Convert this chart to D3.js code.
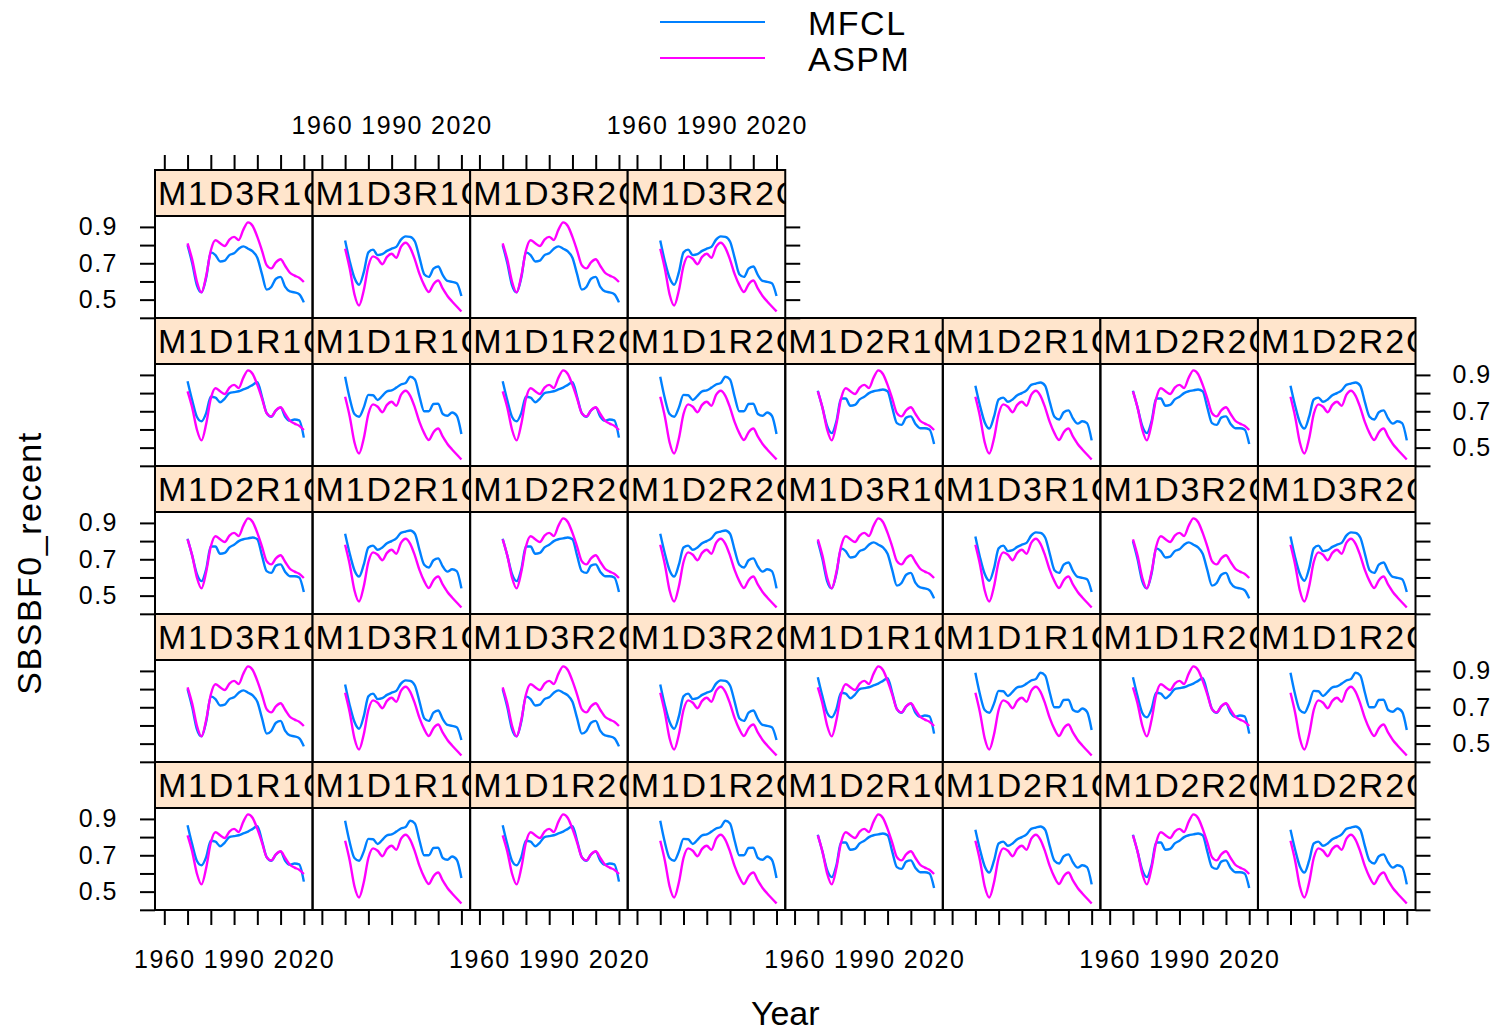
<!DOCTYPE html>
<html>
<head>
<meta charset="utf-8">
<script src="https://cdn.jsdelivr.net/npm/d3@7"></script>
<style>
  body { margin: 0; background: #fff; }
  svg { display: block; }
</style>
</head>
<body>
<div id="chart"></div>
<script>
// years shared by every series
const years = [1970, 1972, 1974, 1976, 1978, 1980, 1982, 1984, 1986, 1988, 1990, 1992, 1994,
  1996, 1998, 2000, 2002, 2004, 2006, 2008, 2010, 2012, 2014, 2016, 2018, 2020];

// MFCL by D level and variant
const mfclD1a = [0.865, 0.76, 0.67, 0.645, 0.69, 0.78, 0.775, 0.75, 0.77, 0.80, 0.805, 0.81, 0.82,
  0.83, 0.845, 0.86, 0.78, 0.69, 0.67, 0.705, 0.72, 0.67, 0.648, 0.655, 0.65, 0.555];
const mfclD1b = [0.89, 0.77, 0.685, 0.67, 0.72, 0.79, 0.788, 0.762, 0.785, 0.81, 0.815, 0.83, 0.847,
  0.855, 0.89, 0.875, 0.78, 0.70, 0.70, 0.74, 0.742, 0.685, 0.675, 0.693, 0.675, 0.575];
const mfclD2a = [0.813, 0.72, 0.62, 0.58, 0.645, 0.77, 0.77, 0.73, 0.735, 0.765, 0.78, 0.80, 0.81,
  0.815, 0.82, 0.81, 0.72, 0.635, 0.625, 0.665, 0.672, 0.63, 0.607, 0.607, 0.60, 0.52];
const mfclD2b = [0.84, 0.73, 0.64, 0.605, 0.67, 0.765, 0.775, 0.752, 0.765, 0.788, 0.80, 0.815, 0.845,
  0.852, 0.858, 0.84, 0.75, 0.67, 0.655, 0.695, 0.705, 0.66, 0.632, 0.645, 0.635, 0.54];
const mfclD3a = [0.80, 0.70, 0.58, 0.54, 0.62, 0.76, 0.745, 0.71, 0.715, 0.745, 0.755, 0.78, 0.793,
  0.78, 0.765, 0.73, 0.64, 0.555, 0.57, 0.615, 0.625, 0.57, 0.545, 0.54, 0.53, 0.485];
const mfclD3b = [0.825, 0.71, 0.62, 0.582, 0.65, 0.76, 0.775, 0.745, 0.75, 0.768, 0.78, 0.79, 0.83,
  0.848, 0.845, 0.82, 0.73, 0.64, 0.625, 0.67, 0.682, 0.635, 0.603, 0.598, 0.59, 0.52];

// ASPM by variant
const aspmA = [0.81, 0.72, 0.60, 0.54, 0.63, 0.77, 0.827, 0.81, 0.795, 0.83, 0.845, 0.828, 0.885,
  0.925, 0.905, 0.845, 0.77, 0.69, 0.672, 0.705, 0.722, 0.685, 0.648, 0.632, 0.62, 0.597];
const aspmB = [0.78, 0.67, 0.53, 0.468, 0.55, 0.685, 0.738, 0.725, 0.695, 0.735, 0.752, 0.73, 0.79,
  0.813, 0.785, 0.72, 0.64, 0.58, 0.542, 0.585, 0.605, 0.56, 0.52, 0.49, 0.462, 0.435];

const mfclByType = { D1a: mfclD1a, D1b: mfclD1b, D2a: mfclD2a, D2b: mfclD2b, D3a: mfclD3a, D3b: mfclD3b };
const aspmByVariant = { a: aspmA, b: aspmB };

// panel factor levels (lattice order, filled from bottom-left)
const replicates = [1, 2, 3];
const dLevels = [1, 2, 3];
const rLevels = [1, 2];
const variants = ["a", "b"];

const seriesNames = ["MFCL", "ASPM"];
const seriesColors = ["#0080ff", "#ff00ff"];

const xTicks = [1960, 1970, 1980, 1990, 2000, 2010, 2020];
const xLabelled = [1960, 1990, 2020];
const yTicks = [0.4, 0.5, 0.6, 0.7, 0.8, 0.9];
const yLabelled = [0.5, 0.7, 0.9];

const xTitle = "Year";
const yTitle = "SBSBF0_recent";

// build panels (strip names are truncated by the strip width, as in the original)
const panels = [];
replicates.forEach(rep => dLevels.forEach(d => rLevels.forEach(r => variants.forEach(v => {
  panels.push({
    label: `M1D${d}R${r}C`,
    mfcl: mfclByType[`D${d}${v}`],
    aspm: aspmByVariant[v]
  });
}))));

const width = 1493, height = 1034;
const nCols = 8, nRows = 5;
const gridLeft = 155, gridRight = 1415.5, gridTop = 170, rowH = 148, stripH = 46;
const colW = (gridRight - gridLeft) / nCols;
const tickLen = 15, tickPad = 22;
const font = "'Liberation Sans', Arial, Helvetica, sans-serif";

const svg = d3.select("#chart").append("svg")
  .attr("width", width)
  .attr("height", height)
  .style("font-family", font);

const defs = svg.append("defs");

const line = d3.line().curve(d3.curveMonotoneX);

function styleAxis(g) {
  g.select(".domain").remove();
  g.selectAll(".tick line").attr("stroke", "#000").attr("stroke-width", 2);
  g.selectAll(".tick text")
    .attr("fill", "#000")
    .style("font-size", "25px")
    .style("letter-spacing", "1.5px");
}

panels.forEach((p, i) => {
  const col = i % nCols;
  const rowFromTop = nRows - 1 - Math.floor(i / nCols);
  const x0 = gridLeft + col * colW;
  const y0 = gridTop + rowFromTop * rowH;
  const py0 = y0 + stripH, py1 = y0 + rowH;

  const x = d3.scaleLinear().domain([1956, 2023.75]).range([x0, x0 + colW]);
  const y = d3.scaleLinear().domain([0.399, 0.96]).range([py1, py0]);

  const g = svg.append("g").attr("class", "panel");

  // strip
  const clipId = `strip-clip-${i}`;
  defs.append("clipPath").attr("id", clipId)
    .append("rect").attr("x", x0).attr("y", y0).attr("width", colW).attr("height", stripH);
  g.append("rect")
    .attr("x", x0).attr("y", y0).attr("width", colW).attr("height", stripH)
    .attr("fill", "#ffe5cc");
  g.append("text")
    .attr("clip-path", `url(#${clipId})`)
    .attr("x", x0 + 3).attr("y", y0 + 35)
    .style("font-size", "34px")
    .style("letter-spacing", "1.8px")
    .text(p.label);

  // lines
  const pClip = `panel-clip-${i}`;
  defs.append("clipPath").attr("id", pClip)
    .append("rect").attr("x", x0).attr("y", py0).attr("width", colW).attr("height", py1 - py0);
  [p.mfcl, p.aspm].forEach((vals, k) => {
    g.append("path")
      .attr("clip-path", `url(#${pClip})`)
      .attr("d", line(years.map((yr, j) => [x(yr), y(vals[j])])))
      .attr("fill", "none")
      .attr("stroke", seriesColors[k])
      .attr("stroke-width", 2.4);
  });

  // borders
  g.append("rect")
    .attr("x", x0).attr("y", y0).attr("width", colW).attr("height", rowH)
    .attr("fill", "none").attr("stroke", "#000").attr("stroke-width", 2);
  g.append("line")
    .attr("x1", x0).attr("x2", x0 + colW).attr("y1", py0).attr("y2", py0)
    .attr("stroke", "#000").attr("stroke-width", 2);

  const isTopOfCol = (i + nCols >= panels.length);
  const isLastInRow = (col === nCols - 1) || (i === panels.length - 1);

  // bottom axis on bottom row
  if (rowFromTop === nRows - 1) {
    svg.append("g")
      .attr("transform", `translate(0,${py1})`)
      .call(d3.axisBottom(x).tickValues(xTicks).tickSize(tickLen).tickPadding(25)
        .tickFormat(d => (col % 2 === 0 && xLabelled.includes(d)) ? d : ""))
      .call(styleAxis);
  }
  // top axis on top panel of each column (only when that panel is in the top row)
  if (isTopOfCol && rowFromTop === 0) {
    svg.append("g")
      .attr("transform", `translate(0,${y0})`)
      .call(d3.axisTop(x).tickValues(xTicks).tickSize(tickLen).tickPadding(21)
        .tickFormat(d => (col % 2 === 1 && xLabelled.includes(d)) ? d : ""))
      .call(styleAxis);
  }
  // left axis
  if (col === 0) {
    svg.append("g")
      .attr("transform", `translate(${x0},0)`)
      .call(d3.axisLeft(y).tickValues(yTicks).tickSize(tickLen).tickPadding(tickPad)
        .tickFormat(d => (rowFromTop % 2 === 0 && yLabelled.some(v => Math.abs(v - d) < 1e-9)) ? d3.format(".1f")(d) : ""))
      .call(styleAxis);
  }
  // right axis
  if (isLastInRow) {
    svg.append("g")
      .attr("transform", `translate(${x0 + colW},0)`)
      .call(d3.axisRight(y).tickValues(yTicks).tickSize(tickLen).tickPadding(tickPad)
        .tickFormat(d => (rowFromTop % 2 === 1 && yLabelled.some(v => Math.abs(v - d) < 1e-9)) ? d3.format(".1f")(d) : ""))
      .call(styleAxis);
  }
});

// axis titles
svg.append("text")
  .attr("x", (gridLeft + gridRight) / 2).attr("y", 1025)
  .attr("text-anchor", "middle")
  .style("font-size", "34px")
  .text(xTitle);

svg.append("text")
  .attr("transform", `translate(41,563) rotate(-90)`)
  .attr("text-anchor", "middle")
  .style("font-size", "34px")
  .style("letter-spacing", "1.5px")
  .text(yTitle);

// legend
const legend = svg.append("g").attr("class", "legend");
seriesNames.forEach((name, k) => {
  const ly = 22 + k * 36;
  legend.append("line")
    .attr("x1", 660).attr("x2", 765).attr("y1", ly).attr("y2", ly)
    .attr("stroke", seriesColors[k]).attr("stroke-width", 2.2);
  legend.append("text")
    .attr("x", 808).attr("y", ly + 13)
    .style("font-size", "34px")
    .style("letter-spacing", "1.5px")
    .text(name);
});
</script>
</body>
</html>
